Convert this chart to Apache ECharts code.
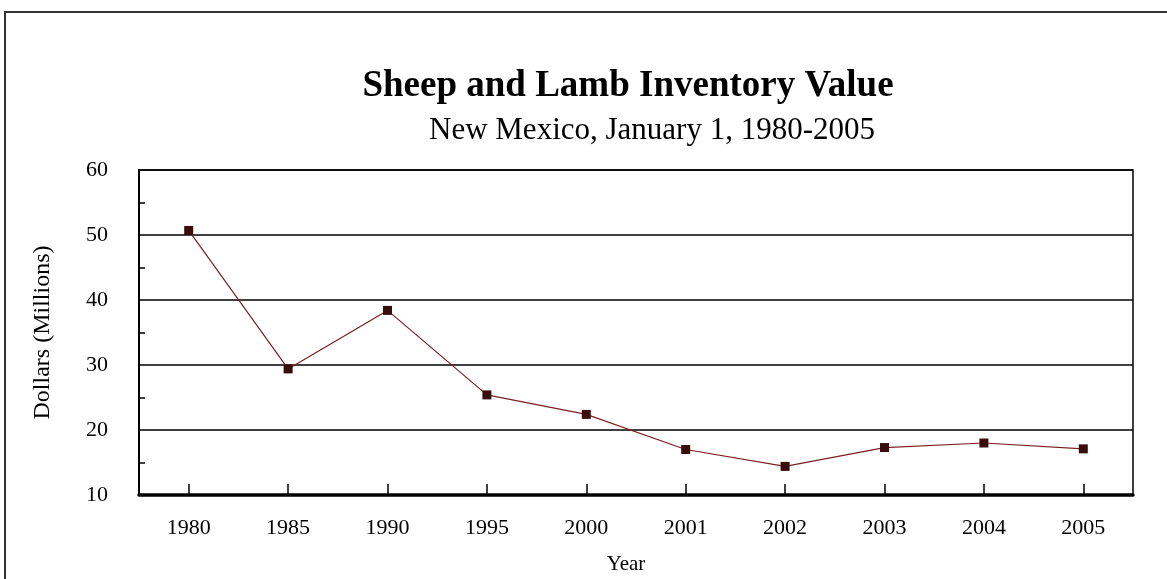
<!DOCTYPE html>
<html lang="en">
  <head>
    <meta charset="UTF-8" />
    <title>Sheep and Lamb Inventory Value</title>
    <style>
      body {
        margin: 0;
        background: #fff;
      }
      #main {
        width: 1167px;
        height: 579px;
      }
    </style>
  </head>
  <body>
    <div id="main"></div>
    <script src="https://cdn.jsdelivr.net/npm/echarts@6/dist/echarts.min.js"></script>
    <script>
      const years = ["1980", "1985", "1990", "1995", "2000", "2001", "2002", "2003", "2004", "2005"];
      const values = [50.7, 29.4, 38.4, 25.4, 22.4, 17.0, 14.4, 17.3, 18.0, 17.1];

      const serif = "Liberation Serif, Times New Roman, serif";
      const myChart = echarts.init(document.getElementById("main"));

      const option = {
        animation: false,
        title: [
          {
            text: "Sheep and Lamb Inventory Value",
            left: 623,
            top: 63,
            textAlign: "center",
            textStyle: { fontFamily: serif, fontWeight: "bold", fontSize: 37, color: "#000" },
          },
          {
            text: "New Mexico, January 1, 1980-2005",
            left: 647,
            top: 110,
            textAlign: "center",
            textStyle: { fontFamily: serif, fontWeight: "normal", fontSize: 31, color: "#000" },
          },
        ],
        // outer frame
        graphic: [
          {
            type: "rect",
            shape: { x: 5, y: 12, width: 1200, height: 620 },
            style: { fill: "none", stroke: "#333", lineWidth: 2 },
            silent: true,
          },
        ],
        grid: {
          left: 139,
          right: 34,
          top: 170,
          bottom: 84,
          outerBoundsMode: "none",
          containLabel: false,
          show: true,
          borderColor: "#000",
          borderWidth: 1.5,
        },
        xAxis: {
          type: "category",
          data: years,
          boundaryGap: true,
          name: "Year",
          nameLocation: "middle",
          nameGap: 59,
          nameTextStyle: { fontFamily: serif, fontSize: 21, color: "#000", padding: [0, 20, 0, 0] },
          axisLine: { lineStyle: { color: "#000", width: 3.5 } },
          axisTick: { show: true, alignWithLabel: true, inside: true, length: 11, lineStyle: { color: "#000", width: 1.5 } },
          axisLabel: { fontFamily: serif, fontSize: 22, color: "#000", margin: 22 },
          splitLine: { show: false },
        },
        yAxis: {
          type: "value",
          min: 10,
          max: 60,
          interval: 10,
          name: "Dollars (Millions)",
          nameLocation: "middle",
          nameGap: 84,
          nameTextStyle: { fontFamily: serif, fontSize: 24, color: "#000" },
          axisLine: { show: true, lineStyle: { color: "#000", width: 2 } },
          axisTick: { show: false, inside: true },
          minorTick: { show: true, splitNumber: 2, length: 6, lineStyle: { color: "#000", width: 1.5 } },
          axisLabel: { fontFamily: serif, fontSize: 22, color: "#000", margin: 31, padding: [8, 0, 0, 0] },
          splitLine: { show: true, lineStyle: { color: "#000", width: 1.5 } },
        },
        series: [
          {
            type: "line",
            data: values,
            symbol: "rect",
            symbolSize: 9,
            itemStyle: { color: "#3a0d0d" },
            lineStyle: { color: "#7a2020", width: 1.2 },
          },
        ],
      };
      myChart.setOption(option);
    </script>
  </body>
</html>
